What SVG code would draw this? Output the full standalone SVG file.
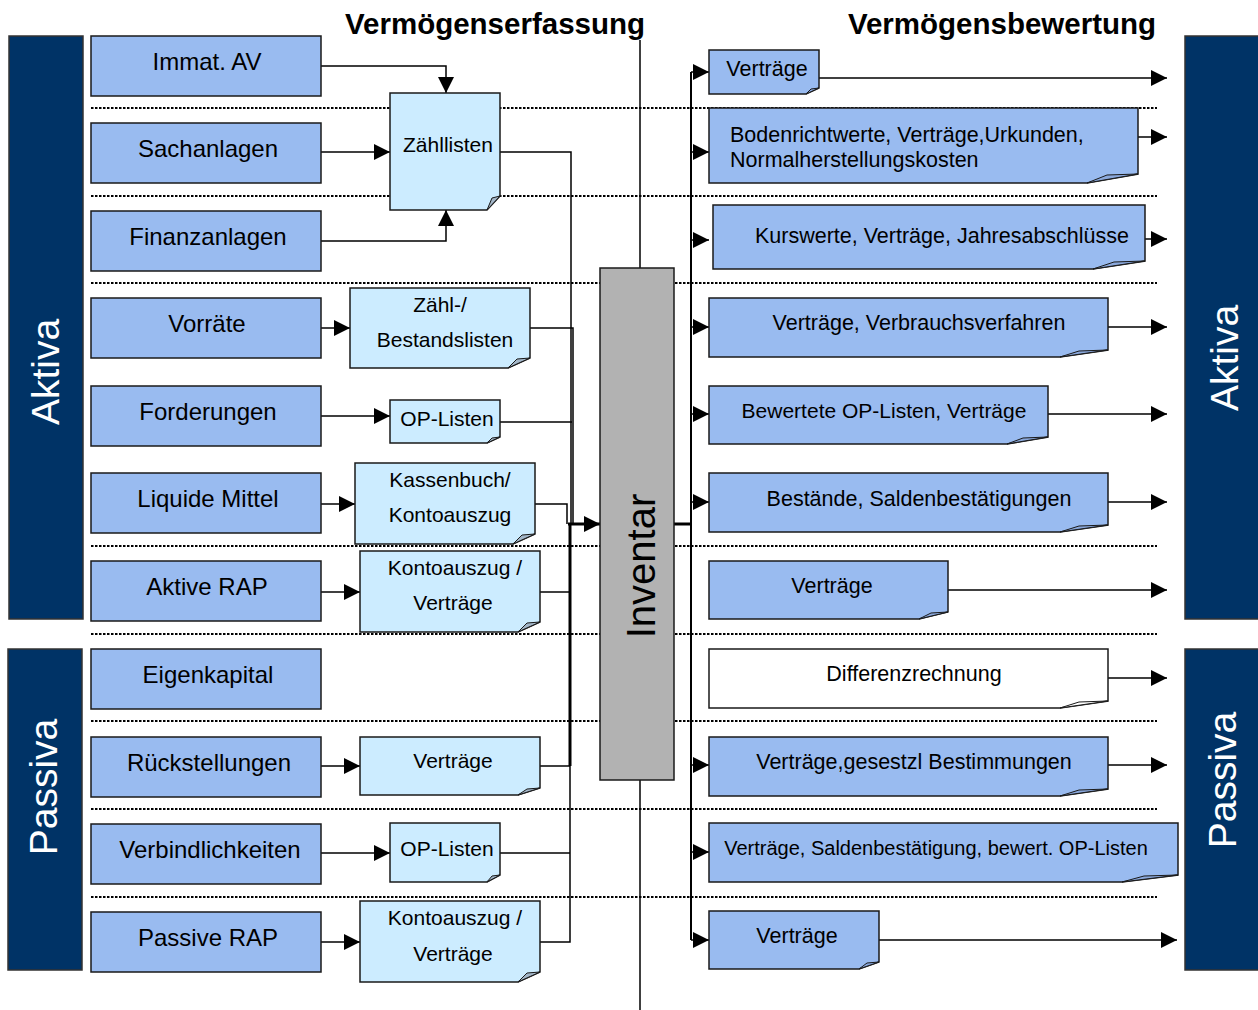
<svg xmlns="http://www.w3.org/2000/svg" width="1258" height="1010" viewBox="0 0 1258 1010">
<style>
.bg{fill:#fff}
.bar{fill:#003366;stroke:#333;stroke-width:1.5}
.bartxt{font-family:"Liberation Sans",Arial,sans-serif;font-size:39px;fill:#fff;text-anchor:middle}
.box{fill:#99BBF0;stroke:#1a1a1a;stroke-width:1.5}
.doc{fill:#CCECFF;stroke:#1a1a1a;stroke-width:1.5}
.rdoc{fill:#99BBF0;stroke:#1a1a1a;stroke-width:1.5}
.wdoc{fill:#fff;stroke:#1a1a1a;stroke-width:1.5}
.fold{fill:#A3B6C8;stroke:#1a1a1a;stroke-width:1}
.rfold{fill:#8AA8DC;stroke:#1a1a1a;stroke-width:1}
.wfold{fill:#fff;stroke:#1a1a1a;stroke-width:1}
.inv{fill:#B2B2B2;stroke:#1a1a1a;stroke-width:1.5}
.lt{font-family:"Liberation Sans",Arial,sans-serif;font-size:24px;fill:#000;text-anchor:middle}
.dt{font-family:"Liberation Sans",Arial,sans-serif;font-size:21px;fill:#000;text-anchor:middle}
.rt{font-family:"Liberation Sans",Arial,sans-serif;font-size:21.5px;fill:#000;text-anchor:middle}
.title{font-family:"Liberation Sans",Arial,sans-serif;font-size:29.5px;font-weight:bold;fill:#000;text-anchor:middle}
.dot{stroke:#000;stroke-width:2;stroke-dasharray:2.5 1.5;fill:none}
.ln{stroke:#000;stroke-width:1.5;fill:none}
.thk{stroke:#000;stroke-width:3;fill:none}
.arr{marker-end:url(#ah)}
</style>
<defs>
<marker id="ah" viewBox="0 0 16 16" refX="16" refY="8" markerWidth="16" markerHeight="16" markerUnits="userSpaceOnUse" orient="auto">
<path d="M0,0 L16,8 L0,16 Z" fill="#000"/>
</marker>
</defs>
<rect class="bg" x="0" y="0" width="1258" height="1010"/>

<g id="separators">
<line class="dot" x1="91" y1="108" x2="1157" y2="108"/>
<line class="dot" x1="91" y1="196" x2="1157" y2="196"/>
<line class="dot" x1="91" y1="283" x2="1157" y2="283"/>
<line class="dot" x1="91" y1="546" x2="1157" y2="546"/>
<line class="dot" x1="91" y1="634" x2="1157" y2="634"/>
<line class="dot" x1="91" y1="721" x2="1157" y2="721"/>
<line class="dot" x1="91" y1="809" x2="1157" y2="809"/>
<line class="dot" x1="91" y1="897" x2="1157" y2="897"/>
</g>

<g id="titles">
<text class="title" x="495" y="34">Vermögenserfassung</text>
<text class="title" x="1002" y="34">Vermögensbewertung</text>
</g>

<g id="connectors">
<line class="ln" x1="640" y1="40" x2="640" y2="268"/>
<line class="ln" x1="640" y1="780" x2="640" y2="1010"/>
<path class="ln arr" d="M321 66 H446 V93"/>
<path class="ln arr" d="M321 152 H390"/>
<path class="ln arr" d="M321 241 H446 V210"/>
<path class="ln arr" d="M321 328 H350"/>
<path class="ln arr" d="M321 416 H390"/>
<path class="ln arr" d="M321 504 H355"/>
<path class="ln arr" d="M321 592 H360"/>
<path class="ln arr" d="M321 766 H360"/>
<path class="ln arr" d="M321 853 H390"/>
<path class="ln arr" d="M321 942 H360"/>
<path class="ln" d="M500 152 H571 V524"/>
<path class="ln" d="M530 328 H573 V524"/>
<path class="ln" d="M500 422 H572"/>
<path class="ln" d="M535 504 H567 V524"/>
<path class="ln" d="M540 592 H570"/>
<path class="ln" d="M540 766 H570"/>
<path class="ln" d="M500 853 H570"/>
<path class="ln" d="M540 942 H570 V766"/>
<path class="thk" d="M570 524 V766"/>
<path class="thk arr" d="M568 524 H600"/>
<path class="thk" d="M674 524 H692"/>
<path class="ln" d="M691 72 V940" style="stroke-width:2"/>
<path class="ln arr" d="M691 72 H709"/>
<path class="ln arr" d="M691 152 H709"/>
<path class="ln arr" d="M691 240 H709"/>
<path class="ln arr" d="M691 327 H709"/>
<path class="ln arr" d="M691 414 H709"/>
<path class="ln arr" d="M691 502 H709"/>
<path class="ln arr" d="M691 765 H709"/>
<path class="ln arr" d="M691 852 H709"/>
<path class="ln arr" d="M691 940 H709"/>
<path class="ln arr" d="M819 78 H1167"/>
<path class="ln arr" d="M1138 137 H1167"/>
<path class="ln arr" d="M1145 239 H1167"/>
<path class="ln arr" d="M1108 327 H1167"/>
<path class="ln arr" d="M1048 414 H1167"/>
<path class="ln arr" d="M1108 502 H1167"/>
<path class="ln arr" d="M948 590 H1167"/>
<path class="ln arr" d="M1108 678 H1167"/>
<path class="ln arr" d="M1108 765 H1167"/>
<path class="ln arr" d="M879 940 H1177"/>
</g>

<g id="bar-aktiva-left"><rect class="bar" x="9" y="36" width="74" height="583"/><text class="bartxt" transform="translate(59,372) rotate(-90)">Aktiva</text></g>
<g id="bar-passiva-left"><rect class="bar" x="8" y="649" width="74" height="321"/><text class="bartxt" transform="translate(57,787) rotate(-90)">Passiva</text></g>
<g id="bar-aktiva-right"><rect class="bar" x="1185" y="36" width="74" height="583"/><text class="bartxt" transform="translate(1238,358) rotate(-90)">Aktiva</text></g>
<g id="bar-passiva-right"><rect class="bar" x="1185" y="649" width="74" height="321"/><text class="bartxt" transform="translate(1236,780) rotate(-90)">Passiva</text></g>

<g id="immat-av"><rect class="box" x="91" y="36" width="230" height="60"/><text class="lt" x="207" y="70">Immat. AV</text></g>
<g id="sachanlagen"><rect class="box" x="91" y="123" width="230" height="60"/><text class="lt" x="208" y="157">Sachanlagen</text></g>
<g id="finanzanlagen"><rect class="box" x="91" y="211" width="230" height="60"/><text class="lt" x="208" y="245">Finanzanlagen</text></g>
<g id="vorraete"><rect class="box" x="91" y="298" width="230" height="60"/><text class="lt" x="207" y="332">Vorräte</text></g>
<g id="forderungen"><rect class="box" x="91" y="386" width="230" height="60"/><text class="lt" x="208" y="420">Forderungen</text></g>
<g id="liquide-mittel"><rect class="box" x="91" y="473" width="230" height="60"/><text class="lt" x="208" y="507">Liquide Mittel</text></g>
<g id="aktive-rap"><rect class="box" x="91" y="561" width="230" height="60"/><text class="lt" x="207" y="595">Aktive RAP</text></g>
<g id="eigenkapital"><rect class="box" x="91" y="649" width="230" height="60"/><text class="lt" x="208" y="683">Eigenkapital</text></g>
<g id="rueckstellungen"><rect class="box" x="91" y="737" width="230" height="60"/><text class="lt" x="209" y="771">Rückstellungen</text></g>
<g id="verbindlichkeiten"><rect class="box" x="91" y="824" width="230" height="60"/><text class="lt" x="210" y="858">Verbindlichkeiten</text></g>
<g id="passive-rap"><rect class="box" x="91" y="912" width="230" height="60"/><text class="lt" x="208" y="946">Passive RAP</text></g>

<g id="doc-zaehllisten"><path class="doc" d="M390 93 H500 V196 L487 210 H390 Z"/><path class="fold" d="M500 196 L487 210 L492 198 Z"/><text class="dt" x="448" y="152">Zähllisten</text></g>
<g id="doc-bestandslisten"><path class="doc" d="M350 288 H530 V358 L508 368 H350 Z"/><path class="fold" d="M530 358 L508 368 L517 359 Z"/><text class="dt" x="440" y="312">Zähl-/</text><text class="dt" x="445" y="347">Bestandslisten</text></g>
<g id="doc-oplisten-1"><path class="doc" d="M390 400 H500 V437 L487 443 H390 Z"/><path class="fold" d="M500 437 L487 443 L492 438 Z"/><text class="dt" x="447" y="426">OP-Listen</text></g>
<g id="doc-kassenbuch"><path class="doc" d="M355 463 H535 V534 L513 544 H355 Z"/><path class="fold" d="M535 534 L513 544 L522 535 Z"/><text class="dt" x="450" y="487">Kassenbuch/</text><text class="dt" x="450" y="522">Kontoauszug</text></g>
<g id="doc-kontoauszug-1"><path class="doc" d="M360 551 H540 V622 L518 632 H360 Z"/><path class="fold" d="M540 622 L518 632 L527 623 Z"/><text class="dt" x="455" y="575">Kontoauszug /</text><text class="dt" x="453" y="610">Verträge</text></g>
<g id="doc-vertraege-rs"><path class="doc" d="M360 737 H540 V788 L518 795 H360 Z"/><path class="fold" d="M540 788 L518 795 L527 789 Z"/><text class="dt" x="453" y="768">Verträge</text></g>
<g id="doc-oplisten-2"><path class="doc" d="M390 823 H500 V875 L487 882 H390 Z"/><path class="fold" d="M500 875 L487 882 L492 876 Z"/><text class="dt" x="447" y="856">OP-Listen</text></g>
<g id="doc-kontoauszug-2"><path class="doc" d="M360 901 H540 V972 L518 982 H360 Z"/><path class="fold" d="M540 972 L518 982 L527 973 Z"/><text class="dt" x="455" y="925">Kontoauszug /</text><text class="dt" x="453" y="961">Verträge</text></g>

<g id="inventar"><rect class="inv" x="600" y="268" width="74" height="512"/><text class="bartxt" style="fill:#000;font-size:40px" transform="translate(655,566) rotate(-90)">Inventar</text></g>

<g id="r1"><path class="rdoc" d="M709 50 H819 V88 L806 94 H709 Z"/><path class="rfold" d="M819 88 L806 94 L811 89 Z"/><text class="rt" x="767" y="76">Verträge</text></g>
<g id="r2"><path class="rdoc" d="M709 108 H1138 V174 L1087 183 H709 Z"/><path class="rfold" d="M1138 174 L1087 183 L1107 175 Z"/><text class="rt" style="text-anchor:start" x="730" y="142">Bodenrichtwerte, Verträge,Urkunden,</text><text class="rt" style="text-anchor:start" x="730" y="167">Normalherstellungskosten</text></g>
<g id="r3"><path class="rdoc" d="M713 205 H1145 V261 L1093 269 H713 Z"/><path class="rfold" d="M1145 261 L1093 269 L1114 262 Z"/><text class="rt" x="942" y="243">Kurswerte, Verträge, Jahresabschlüsse</text></g>
<g id="r4"><path class="rdoc" d="M709 298 H1108 V350 L1060 357 H709 Z"/><path class="rfold" d="M1108 350 L1060 357 L1079 351 Z"/><text class="rt" x="919" y="330">Verträge, Verbrauchsverfahren</text></g>
<g id="r5"><path class="rdoc" d="M709 386 H1048 V437 L1007 444 H709 Z"/><path class="rfold" d="M1048 437 L1007 444 L1023 438 Z"/><text class="rt" style="font-size:21px" x="884" y="418">Bewertete OP-Listen, Verträge</text></g>
<g id="r6"><path class="rdoc" d="M709 473 H1108 V525 L1060 532 H709 Z"/><path class="rfold" d="M1108 525 L1060 532 L1079 526 Z"/><text class="rt" x="919" y="506">Bestände, Saldenbestätigungen</text></g>
<g id="r7"><path class="rdoc" d="M709 561 H948 V612 L919 619 H709 Z"/><path class="rfold" d="M948 612 L919 619 L931 613 Z"/><text class="rt" x="832" y="593">Verträge</text></g>
<g id="r8"><path class="wdoc" d="M709 649 H1108 V701 L1060 708 H709 Z"/><path class="wfold" d="M1108 701 L1060 708 L1079 702 Z"/><text class="rt" x="914" y="681">Differenzrechnung</text></g>
<g id="r9"><path class="rdoc" d="M709 737 H1108 V789 L1060 796 H709 Z"/><path class="rfold" d="M1108 789 L1060 796 L1079 790 Z"/><text class="rt" x="914" y="769">Verträge,gesestzl Bestimmungen</text></g>
<g id="r10"><path class="rdoc" d="M709 823 H1178 V875 L1122 882 H709 Z"/><path class="rfold" d="M1178 875 L1122 882 L1144 876 Z"/><text class="rt" style="font-size:20px" x="936" y="855">Verträge, Saldenbestätigung, bewert. OP-Listen</text></g>
<g id="r11"><path class="rdoc" d="M709 911 H879 V962 L859 969 H709 Z"/><path class="rfold" d="M879 962 L859 969 L867 963 Z"/><text class="rt" x="797" y="943">Verträge</text></g>
</svg>
